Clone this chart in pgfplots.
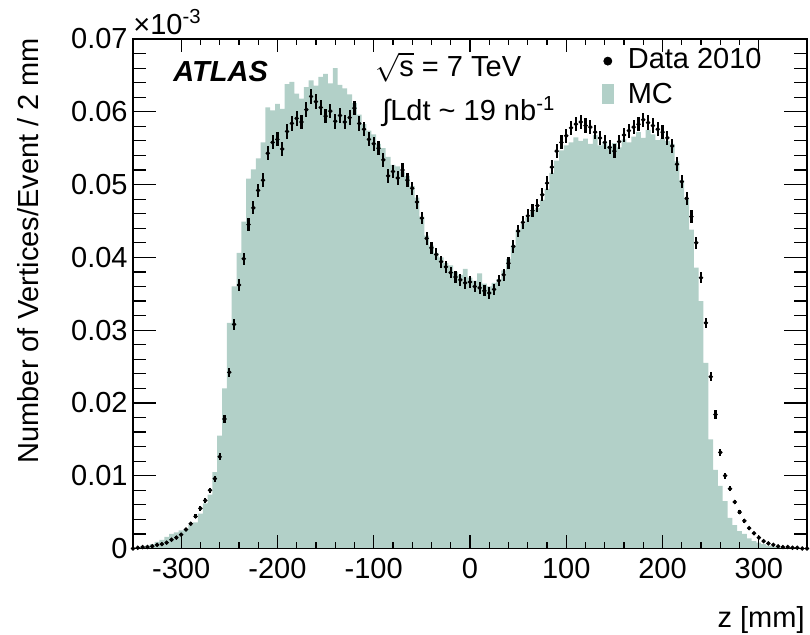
\documentclass[border=0pt]{standalone}
\usepackage{pgfplots}
\pgfplotsset{compat=1.18}
\usepackage{fontspec}
\setmainfont{Liberation Sans}
\definecolor{mcfill}{RGB}{178,208,200}

% values in units of 1e-3 (axis labels written as on the ROOT plot)
\pgfplotstableread{
x y
-350 0.1
-345 0.2
-340 0.3
-335 0.4
-330 0.6
-325 0.9
-320 1.2
-315 1.6
-310 2.0
-305 2.2
-300 2.5
-295 2.7
-290 3.2
-285 3.6
-280 4.8
-275 6.2
-270 7.4
-265 10.5
-260 15.5
-255 22.0
-250 31.0
-245 36.0
-240 40.6
-235 44.9
-230 50.8
-225 52.1
-220 53.6
-215 55.8
-210 60.6
-205 60.2
-200 61.1
-195 60.4
-190 63.8
-185 64.1
-180 62.5
-175 61.8
-170 63.4
-165 64.3
-160 63.6
-155 64.8
-150 65.2
-145 63.9
-140 66.0
-135 63.7
-130 63.2
-125 62.4
-120 61.2
-115 59.6
-110 58.3
-105 57.4
-100 56.9
-95 55.6
-90 55.0
-85 53.8
-80 52.7
-75 52.5
-70 51.8
-65 51.2
-60 49.8
-55 48.2
-50 45.6
-45 43.0
-40 41.6
-35 40.6
-30 40.0
-25 39.2
-20 38.9
-15 38.0
-10 37.6
-5 38.4
0 37.2
5 36.8
10 37.8
15 36.4
20 36.0
25 36.5
30 37.0
35 38.2
40 39.8
45 41.6
50 43.8
55 44.6
60 45.5
65 46.2
70 46.8
75 47.9
80 49.4
85 51.6
90 53.3
95 54.7
100 55.4
105 55.8
110 56.5
115 56.0
120 56.3
125 55.6
130 56.8
135 55.4
140 55.9
145 55.3
150 55.7
155 55.1
160 56.2
165 55.8
170 56.6
175 57.2
180 56.4
185 57.5
190 56.9
195 56.1
200 56.3
205 56.0
210 55.6
215 53.2
220 50.6
225 48.0
230 43.8
235 38.6
240 34.0
245 25.5
250 15.0
255 10.8
260 8.6
265 6.5
270 4.2
275 3.2
280 2.4
285 2.0
290 1.4
295 1.0
300 0.8
305 0.6
310 0.4
315 0.3
320 0.2
325 0.1
330 0.1
335 0.0
340 0.0
345 0.0
350 0.0
}\mctable

\pgfplotstableread{
x y e
-350 0.0 0.05
-345 0.1 0.05
-340 0.2 0.06
-335 0.2 0.06
-330 0.3 0.07
-325 0.5 0.09
-320 0.6 0.10
-315 0.8 0.12
-310 1.2 0.14
-305 1.5 0.16
-300 1.9 0.18
-295 2.6 0.21
-290 3.4 0.24
-285 4.4 0.27
-280 5.5 0.30
-275 6.6 0.33
-270 8.0 0.37
-265 9.6 0.40
-260 12.6 0.46
-255 17.8 0.55
-250 24.2 0.64
-245 30.8 0.72
-240 36.2 0.78
-235 39.8 0.82
-230 44.5 0.87
-225 46.8 0.89
-220 49.2 0.91
-215 50.6 0.92
-210 54.3 0.96
-205 55.8 0.97
-200 56.2 0.97
-195 54.9 0.96
-190 57.3 0.98
-185 58.4 0.99
-180 59.1 1.00
-175 58.6 1.00
-170 60.3 1.00
-165 62.1 1.02
-160 61.4 1.02
-155 60.6 1.01
-150 59.4 1.00
-145 60.1 1.00
-140 58.7 1.00
-135 59.5 1.00
-130 58.6 1.00
-125 59.2 1.00
-120 60.5 1.01
-115 58.4 0.99
-110 57.6 0.99
-105 56.2 0.97
-100 55.6 0.97
-95 55.0 0.96
-90 53.4 0.95
-85 51.2 0.93
-80 51.8 0.94
-75 50.9 0.93
-70 52.0 0.94
-65 50.6 0.92
-60 49.5 0.91
-55 47.6 0.90
-50 45.4 0.88
-45 42.6 0.85
-40 41.3 0.84
-35 40.4 0.83
-30 39.4 0.82
-25 38.7 0.81
-20 37.9 0.80
-15 37.3 0.79
-10 36.9 0.79
-5 36.5 0.79
0 36.6 0.79
5 36.0 0.78
10 35.8 0.78
15 35.4 0.77
20 35.1 0.77
25 35.6 0.78
30 36.8 0.79
35 37.6 0.80
40 39.2 0.81
45 41.5 0.84
50 43.6 0.86
55 44.8 0.87
60 45.7 0.88
65 46.4 0.89
70 47.1 0.89
75 48.6 0.91
80 50.2 0.92
85 52.4 0.94
90 54.6 0.96
95 55.8 0.97
100 56.7 0.98
105 57.8 0.99
110 58.3 0.99
115 58.6 1.00
120 58.1 0.99
125 57.9 0.99
130 57.2 0.98
135 56.4 0.98
140 55.8 0.97
145 55.1 0.96
150 54.6 0.96
155 55.9 0.97
160 56.8 0.98
165 57.4 0.98
170 57.9 0.99
175 58.3 0.99
180 58.9 1.00
185 58.5 0.99
190 58.1 0.99
195 57.6 0.99
200 57.2 0.98
205 56.4 0.98
210 55.3 0.97
215 52.8 0.94
220 50.4 0.92
225 48.1 0.90
230 45.6 0.88
235 42.0 0.84
240 37.2 0.79
245 31.0 0.72
250 23.6 0.63
255 18.4 0.56
260 13.2 0.47
265 10.0 0.41
270 8.2 0.37
275 6.4 0.33
280 5.0 0.29
285 3.8 0.25
290 2.8 0.22
295 2.1 0.19
300 1.5 0.16
305 1.0 0.13
310 0.7 0.11
315 0.5 0.09
320 0.3 0.07
325 0.2 0.06
330 0.2 0.06
335 0.1 0.05
340 0.1 0.05
345 0.0 0.05
350 0.0 0.05
}\datatable

\begin{document}
\begin{tikzpicture}[font=\fontsize{14.5}{17}\selectfont]
\pgfplotsset{rootax/.style={
  scale only axis, width=337pt, height=254.75pt,
  xmin=-350, xmax=350, ymin=0, ymax=70,
  tick align=inside, axis line style={line width=0.8pt},
  every tick/.style={black, line width=0.6pt},
  tick label style={font=\fontsize{14.5}{17}\selectfont, inner sep=0pt},
}}
\begin{axis}[rootax,
  axis on top,
  xtick={-300,-200,...,300},
  xticklabels={-300,-200,-100,0,100,200,300},
  minor x tick num=4,
  ytick=\empty,
  major tick length=6.5pt, minor tick length=3pt,
  xticklabel style={yshift=-4.5pt},
  reverse legend,
  legend cell align=left,
  legend style={at={(0.695,0.99)}, anchor=north west, draw=none, fill=none,
    inner sep=0pt, row sep=2pt, font=\fontsize{14.5}{17}\selectfont,
    /tikz/every odd column/.append style={column sep=5pt}},
]
\addplot[const plot mark mid, fill=mcfill, draw=none,
  legend image code/.code={\fill[mcfill] (0pt,-4.5pt) rectangle (6pt,5.5pt);}]
  table[x=x, y=y] {\mctable} \closedcycle;
\addlegendentry{MC}
\addplot[only marks, mark=*, mark size=0.9pt, black,
  legend image code/.code={\draw[black] plot[only marks, mark=*, mark size=2pt] coordinates {(3pt,-0.5pt)};},
  error bars/.cd, y dir=both, y explicit, error mark=none,
  error bar style={line width=1.1pt}]
  table[x=x, y=y, y error=e] {\datatable};
\addlegendentry{Data 2010}
\end{axis}
\begin{axis}[rootax,
  xtick=\empty,
  ytick={0,10,...,70},
  yticklabels={0,0.01,0.02,0.03,0.04,0.05,0.06,0.07},
  minor y tick num=4,
  major tick length=11.5pt, minor tick length=6.5pt,
  yticklabel style={xshift=-2.5pt},
]
\end{axis}
\node[anchor=base west, inner sep=0pt] at (0pt,257.2pt) {×10\textsuperscript{-3}};
\node[anchor=base west, inner sep=0pt, font=\fontsize{14.5}{17}\selectfont\bfseries\itshape] at (20pt,233.5pt) {ATLAS};
\node[anchor=base west, inner sep=0pt] at (121pt,236pt) {$\sqrt{\mbox{s}}$ = 7 TeV};
\node[anchor=base west, inner sep=0pt] at (124.5pt,214pt) {∫Ldt \textasciitilde{} 19 nb\textsuperscript{-1}};
\node[anchor=base east, inner sep=0pt] at (336pt,-39.5pt) {z [mm]};
\node[rotate=90, anchor=base east, inner sep=0pt] at (-47.3pt,255.5pt) {Number of Vertices/Event / 2 mm};
\pgfresetboundingbox
\useasboundingbox (-66.5pt,-43pt) rectangle (338.5pt,274.25pt);
\end{tikzpicture}
\end{document}
